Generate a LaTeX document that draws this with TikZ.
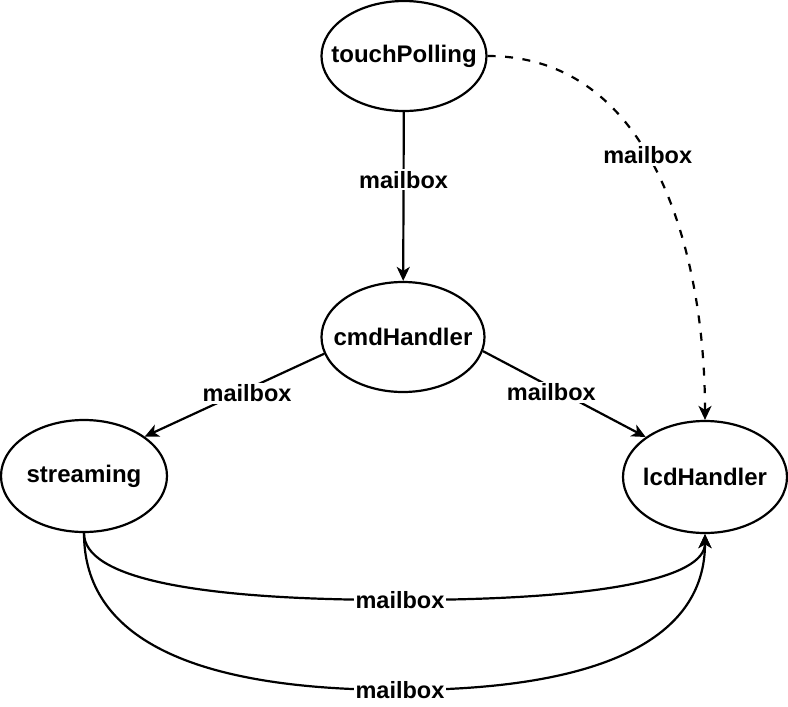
\documentclass[tikz,border=0pt]{standalone}
\usepackage{fontspec}
\setmainfont{Liberation Sans}
\usepackage{tikz}
\usetikzlibrary{arrows.meta,shapes}

\begin{document}
\begin{tikzpicture}[x=1pt,y=-1pt,
    task/.style={ellipse,draw,line width=2.2pt,inner sep=0pt},
    every label/.style={font=\fontsize{24}{28}\selectfont\bfseries,inner sep=0pt},
    arr/.style={line width=2.2pt,-{Stealth[length=14pt,width=13pt,inset=4pt]}},
    lbl/.style={fill=white,inner sep=2pt,font=\fontsize{23.5}{28}\selectfont\bfseries}]
    \useasboundingbox (0,0) rectangle (788,707);

    % Tasks
    \node[task,minimum width=165pt,minimum height=110pt,label=center:touchPolling] (tp) at (404,56) {};
    \node[task,minimum width=163pt,minimum height=110pt,label=center:cmdHandler] (cmd) at (403,337) {};
    \node[task,minimum width=166pt,minimum height=112pt,label=center:streaming] (str) at (84,476) {};
    \node[task,minimum width=164pt,minimum height=112pt,label=center:lcdHandler] (lcd) at (705,477) {};

    % Mailboxes
    \draw[arr] (tp) -- (cmd) node[lbl,pos=0.4]{mailbox};
    \draw[arr] (cmd.192) -- (str.33) node[lbl,pos=0.43,yshift=-4pt]{mailbox};
    \draw[arr] (cmd.350) -- (lcd.146) node[lbl,pos=0.42,yshift=-5pt]{mailbox};
    \draw[arr,dash pattern=on 8pt off 9.5pt] (tp.east) to[out=0,in=90] node[lbl,pos=0.45]{mailbox} (lcd.north);

    % Curved ones at the bottom
    \draw[arr] (str.south) .. controls (84,577) and (190,600) .. (400,600) node[lbl]{mailbox}
        .. controls (603,600) and (705,578) .. (lcd.south);
    \draw[arr] (str.south) .. controls (84,637) and (190,690) .. (400,690) node[lbl]{mailbox}
        .. controls (603,690) and (705,638) .. (lcd.south);
\end{tikzpicture}
\end{document}
